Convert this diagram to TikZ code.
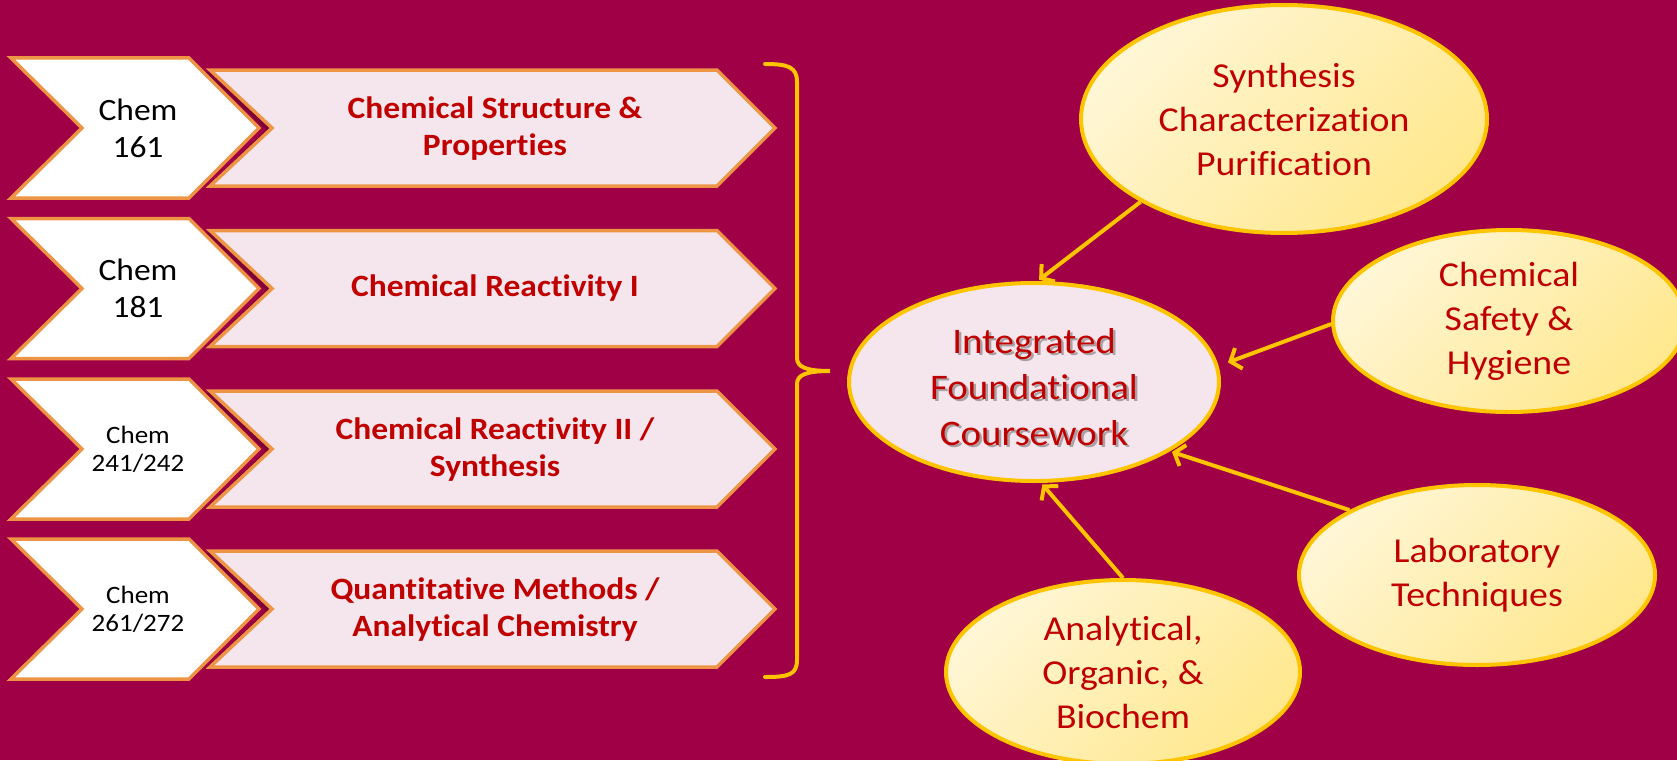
\documentclass[tikz,border=0pt]{standalone}
\usepackage{fontspec}
\setmainfont{Carlito}[FakeStretch=1.08, Ligatures={NoCommon}]
\usetikzlibrary{arrows.meta,shapes.geometric}

\definecolor{bg}{HTML}{A00046}
\definecolor{edgeorange}{HTML}{EE9445}
\definecolor{pinkfill}{HTML}{F4E6EC}
\definecolor{gold}{HTML}{FFC400}
\definecolor{ylight}{HTML}{FFF6D6}
\definecolor{ydark}{HTML}{FFE88E}
\definecolor{txtred}{HTML}{C00000}

\begin{document}
\begin{tikzpicture}[x=1pt,y=-1pt,
  coursebox/.style={fill=white, draw=edgeorange, line width=3.5pt, line join=miter},
  topicbox/.style={fill=pinkfill, draw=edgeorange, line width=3.5pt, line join=miter},
  topicshadow/.style={fill=black, opacity=0.22},
  codebig/.style={align=center, text=black, font=\fontsize{31}{37}\selectfont},
  codesmall/.style={align=center, text=black, font=\fontsize{25}{28}\selectfont},
  topictext/.style={align=center, text=txtred, font=\bfseries\fontsize{31}{37}\selectfont},
  bubble/.style={ellipse, draw=gold, line width=4pt, inner sep=0pt,
    top color=ylight, bottom color=ydark, shading angle=45,
    align=center, text=txtred, font=\fontsize{35}{44}\selectfont},
  hub/.style={ellipse, draw=gold, line width=4pt, fill=pinkfill, inner sep=0pt},
  link/.style={draw=gold, line width=4pt, shorten >=2pt,
    -{Straight Barb[length=9pt,width=22pt,line width=4pt]}},
]
% background
\fill[bg] (0,0) rectangle (1677,760);
\useasboundingbox (0,0) rectangle (1677,760);

% course chevrons (white) and topic chevrons (pink), one row each
\foreach \cy in {128,288.5,449,609} {
  \path[topicshadow] (205,\cy-56) -- (712,\cy-56) -- (770,\cy+2) -- (712,\cy+60)
    -- (205,\cy+60) -- (266,\cy+2) -- cycle;
  \path[topicbox] (210,\cy-58) -- (717,\cy-58) -- (775,\cy) -- (717,\cy+58)
    -- (210,\cy+58) -- (272,\cy) -- cycle;
  \path[coursebox] (11,\cy-70) -- (189,\cy-70) -- (259,\cy) -- (189,\cy+70)
    -- (11,\cy+70) -- (82,\cy) -- cycle;
}

\node[codebig]   (c1) at (138,128)   {Chem\\161};
\node[codebig]   (c2) at (138,288.5) {Chem\\181};
\node[codesmall] (c3) at (138,449)   {Chem\\241/242};
\node[codesmall] (c4) at (138,609)   {Chem\\261/272};

\node[topictext] (t1) at (495,129)   {Chemical Structure \&\\Properties};
\node[topictext] (t2) at (495,288.5) {Chemical Reactivity I};
\node[topictext] (t3) at (495,450)   {Chemical Reactivity II /\\Synthesis};
\node[topictext] (t4) at (495,610)   {Quantitative Methods /\\Analytical Chemistry};

% closing brace gathering the four rows
\draw[gold, line width=4pt, line cap=round]
  (765,64) .. controls (788,64) and (797,67) .. (797,82)
  -- (797,358) .. controls (797,367) and (806,371) .. (830,371)
  .. controls (806,371) and (797,375) .. (797,384)
  -- (797,660) .. controls (797,675) and (788,677) .. (765,677);

% central hub and surrounding topics
\node[hub, minimum width=370pt, minimum height=198pt] (integ) at (1034,382) {};
\node[text=black!70, opacity=0.45, align=center, font=\fontsize{36}{46}\selectfont]
  (integshadow) at (1036.5,389.5) {Integrated\\Foundational\\Coursework};
\node[text=txtred, align=center, font=\fontsize{36}{46}\selectfont]
  (integtext) at (1034,387) {Integrated\\Foundational\\Coursework};

\node[bubble, minimum width=406pt, minimum height=228pt] (synth) at (1284,119)
  {Synthesis\\Characterization\\Purification};
\node[bubble, minimum width=352pt, minimum height=182pt] (safety) at (1509,321)
  {Chemical\\Safety \&\\Hygiene};
\node[bubble, minimum width=356pt, minimum height=180pt] (lab) at (1477,575)
  {Laboratory\\Techniques};
\node[bubble, minimum width=354pt, minimum height=184pt] (anal) at (1123,672)
  {Analytical,\\Organic, \&\\Biochem};

% arrows into the hub
\draw[link] (synth.210) -- (integ.88);
\draw[link, shorten >=10pt] (safety.181) -- (integ.5);
\draw[link] (lab.153) -- (integ.333);
\draw[link] (anal.90) -- (integ.274);
\end{tikzpicture}
\end{document}
